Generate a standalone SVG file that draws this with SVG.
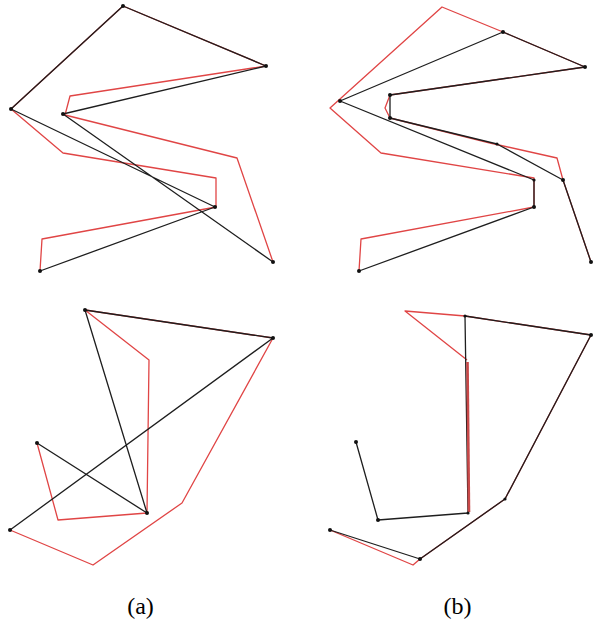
<svg xmlns="http://www.w3.org/2000/svg" width="596" height="624" viewBox="0 0 596 624">
<style>
.red{fill:none;stroke:#e04545;stroke-width:1.3;stroke-linejoin:round}
.blk{fill:none;stroke:#1e1e1e;stroke-width:1.3;stroke-linejoin:round}
.thick{fill:none;stroke:#c84848;stroke-width:2.6}
.dot{fill:#111}
.lbl{font-family:"Liberation Serif","Times New Roman",serif;font-size:24px;fill:#000;text-anchor:middle}
</style>
<rect width="596" height="624" fill="#fff"/>
<g id="connectors">
<!-- panel a top -->
<polyline class="red" points="273,262 237,158 65,115 70,96 266,66 123,6 11,109 63,153 216,178 216,207 42,239 40,271"/>
<polyline class="blk" points="40,271 215,207 11,109 123,6 266,66 63,114 273,262"/>
<!-- panel b top -->
<polyline class="red" points="591,262 563,180 557,158 490,143 390,118 385,108 390,95 585,67 503,32 442,7 330,108 381,153 534,178 534,207 361,239 359,271"/>
<polyline class="blk" points="359,271 534,207 534,180 340,101 503,32 585,67 390,95 390,118 497,144 563,180 591,262"/>
<!-- panel a bottom -->
<polyline class="red" points="37,443 58,520 147,513 149,360 85,310 273,338 182,503 93,565 10,530"/>
<polyline class="blk" points="37,443 147,513 85,310 273,338 10,530"/>
<!-- panel b bottom -->
<polyline class="red" points="330,530 413,565 420,559 505,499 591,335 465,316 405,311 467,360"/>
<polyline class="blk" points="356,442 378,520 468,513 465,316 591,335 505,499 420,559 330,530"/>
<line class="thick" x1="467.5" y1="362" x2="469" y2="512"/>
</g>
<g id="nodes">
<g id="a1"><circle class="dot" cx="123" cy="6" r="2"/><circle class="dot" cx="266" cy="66" r="2"/><circle class="dot" cx="11" cy="109" r="2"/><circle class="dot" cx="63" cy="114" r="2"/><circle class="dot" cx="215" cy="207" r="2"/><circle class="dot" cx="273" cy="262" r="2"/><circle class="dot" cx="40" cy="271" r="2"/></g>
<g id="b1"><circle class="dot" cx="503" cy="32" r="2"/><circle class="dot" cx="585" cy="67" r="2"/><circle class="dot" cx="340" cy="101" r="2"/><circle class="dot" cx="390" cy="95" r="2"/><circle class="dot" cx="390" cy="118" r="2"/><circle class="dot" cx="497" cy="144" r="1.6"/><circle class="dot" cx="563" cy="180" r="2"/><circle class="dot" cx="534" cy="180" r="1.6"/><circle class="dot" cx="534" cy="207" r="2"/><circle class="dot" cx="591" cy="262" r="2"/><circle class="dot" cx="359" cy="271" r="2"/></g>
<g id="a2"><circle class="dot" cx="85" cy="310" r="2"/><circle class="dot" cx="273" cy="338" r="2"/><circle class="dot" cx="37" cy="443" r="2"/><circle class="dot" cx="147" cy="513" r="2"/><circle class="dot" cx="10" cy="530" r="2"/></g>
<g id="b2"><circle class="dot" cx="465" cy="316" r="1.6"/><circle class="dot" cx="591" cy="335" r="2"/><circle class="dot" cx="356" cy="442" r="2"/><circle class="dot" cx="378" cy="520" r="2"/><circle class="dot" cx="468" cy="513" r="1.6"/><circle class="dot" cx="505" cy="499" r="1.6"/><circle class="dot" cx="330" cy="530" r="2"/><circle class="dot" cx="420" cy="559" r="2"/></g>
</g>
<text class="lbl" x="140.5" y="614">(a)</text>
<text class="lbl" x="457.5" y="614">(b)</text>
</svg>
